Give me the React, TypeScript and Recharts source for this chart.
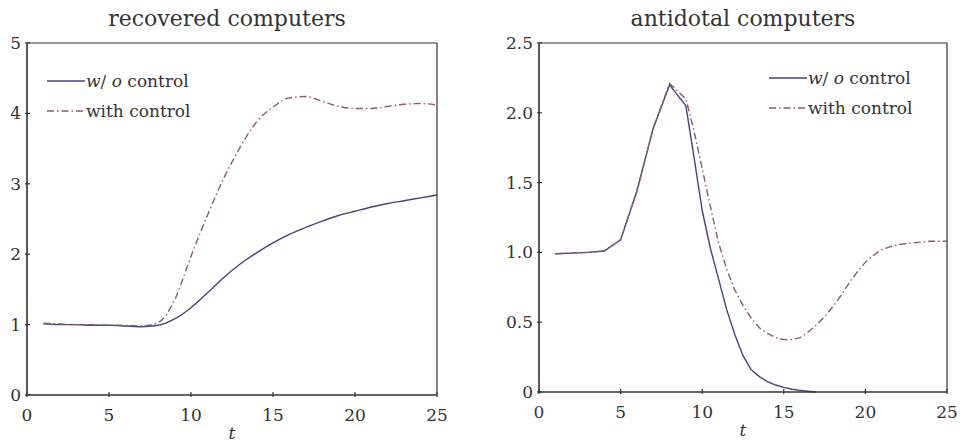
import { LineChart, Line, XAxis, YAxis, ReferenceArea, Legend } from 'recharts';

// recovered computers (integer time steps)
const recoveredT = [1, 2, 3, 4, 5, 6, 7, 8, 9, 10, 11, 12, 13, 14, 15, 16, 17, 18, 19, 20, 21, 22, 23, 24, 25];
const recoveredNoControl = [1.01, 1.0, 1.0, 0.99, 0.99, 0.98, 0.97, 0.99, 1.08, 1.24, 1.45, 1.67, 1.86, 2.02, 2.16, 2.28, 2.38, 2.47, 2.55, 2.61, 2.67, 2.72, 2.76, 2.8, 2.84];
const recoveredControl = [1.02, 1.01, 1.0, 1.0, 0.99, 0.99, 0.98, 1.03, 1.35, 1.97, 2.55, 3.08, 3.52, 3.88, 4.09, 4.22, 4.24, 4.17, 4.1, 4.07, 4.07, 4.1, 4.13, 4.14, 4.12];

// antidotal computers (half steps after the peak, where the curves bend)
const antidotalT = [1, 2, 3, 4, 5, 6, 7, 8, 9, 9.5, 10, 10.5, 11, 11.5, 12, 12.5, 13, 13.5, 14, 14.5, 15, 15.5, 16, 16.5, 17, 17.5, 18, 18.5, 19, 19.5, 20, 20.5, 21, 21.5, 22, 23, 24, 25];
const antidotalNoControl = [0.99, 0.995, 1.0, 1.01, 1.09, 1.44, 1.89, 2.2, 2.05, 1.68, 1.3, 1.03, 0.81, 0.59, 0.41, 0.26, 0.16, 0.11, 0.075, 0.05, 0.033, 0.02, 0.012, 0.005, 0.0, null, null, null, null, null, null, null, null, null, null, null, null, null];
const antidotalControl = [0.99, 0.995, 1.0, 1.01, 1.09, 1.44, 1.89, 2.21, 2.1, 1.87, 1.6, 1.33, 1.07, 0.88, 0.73, 0.62, 0.53, 0.46, 0.42, 0.39, 0.375, 0.375, 0.39, 0.43, 0.48, 0.54, 0.61, 0.69, 0.78, 0.86, 0.93, 0.98, 1.02, 1.04, 1.055, 1.07, 1.08, 1.08];

const xTicks = [0, 5, 10, 15, 20, 25];
const recoveredTicks = [0, 1, 2, 3, 4, 5];
const antidotalTicks = [0, 0.5, 1.0, 1.5, 2.0, 2.5];

const recoveredData = recoveredT.map((t, i) => ({ t, noCtrl: recoveredNoControl[i], ctrl: recoveredControl[i] }));
const antidotalData = antidotalT.map((t, i) => ({ t, noCtrl: antidotalNoControl[i], ctrl: antidotalControl[i] }));

const FONT = 'DejaVu Serif';
const INK = '#333';
const BLUE = '#44447e';
const RED = '#8c5a6a';
const DASHDOT = '7 3 1.5 3';

const XTick = ({ x, y, payload }: any) => (
  <g>
    <line x1={x} x2={x} y1={y} y2={y - 5} stroke={INK} strokeWidth={1.2} />
    <text x={x} y={y + 24} textAnchor="middle" style={{ fontFamily: FONT }} fontSize={17} fill={INK}>
      {payload.value}
    </text>
  </g>
);

const makeYTick = (fmt: (v: number) => string) => ({ x, y, payload }: any) => (
  <g>
    <line x1={x} x2={x + 5} y1={y} y2={y} stroke={INK} strokeWidth={1.2} />
    <text x={x - 4} y={y + 6} textAnchor="end" style={{ fontFamily: FONT }} fontSize={17} fill={INK}>
      {fmt(payload.value)}
    </text>
  </g>
);

const LegendBox = ({ payload }: any) => (
  <div style={{ fontFamily: FONT, fontSize: 17, color: INK, lineHeight: '30px' }}>
    {(payload || []).map((p: any) => (
      <div key={p.value} style={{ display: 'flex', alignItems: 'center', whiteSpace: 'nowrap' }}>
        <svg width={40} height={10}>
          <line x1={1} x2={39} y1={5} y2={5} stroke={p.color} strokeWidth={1.4}
            strokeDasharray={p.dataKey === 'ctrl' ? DASHDOT : undefined} />
        </svg>
        {p.dataKey === 'noCtrl' ? (
          <span><i>w</i>/ <i>o</i> control</span>
        ) : (
          <span>with control</span>
        )}
      </div>
    ))}
  </div>
);

const Title = ({ text, left }: { text: string; left: number }) => (
  <div style={{ position: 'absolute', top: 6, left, width: 410, textAlign: 'center', fontFamily: FONT, fontSize: 22, color: INK }}>
    {text}
  </div>
);

const tLabel = { value: 't', position: 'insideBottom' as const, offset: -14, fontFamily: FONT, fontStyle: 'italic', fontSize: 17, fill: INK };

export default function App() {
  return (
    <div style={{ position: 'absolute', left: 0, top: 0, width: 960, height: 447, background: '#fff' }}>
      <Title text="recovered computers" left={22} />
      <Title text="antidotal computers" left={538} />

      <div style={{ position: 'absolute', left: 0, top: 0 }}>
        <LineChart width={480} height={447} data={recoveredData} margin={{ top: 43, right: 43, bottom: 22, left: 0 }}>
          <XAxis dataKey="t" type="number" domain={[0, 25]} ticks={xTicks} height={30} stroke={INK}
            tickLine={false} tickSize={0} tick={<XTick />} interval={0} label={tLabel} />
          <YAxis type="number" domain={[0, 5]} ticks={recoveredTicks} width={27} stroke={INK}
            tickLine={false} tickSize={0} tick={makeYTick((v) => String(v))} interval={0} />
          <ReferenceArea x1={0} x2={25} y1={0} y2={5} fill="none" stroke={INK} strokeWidth={1.2} ifOverflow="visible" />
          <Line type="monotone" dataKey="noCtrl" name="w/o control" stroke={BLUE} strokeWidth={1.4} dot={false} isAnimationActive={false} />
          <Line type="monotone" dataKey="ctrl" name="with control" stroke={RED} strokeWidth={1.4} strokeDasharray={DASHDOT} dot={false} isAnimationActive={false} />
          <Legend layout="vertical" align="center" verticalAlign="middle" content={<LegendBox />}
            wrapperStyle={{ top: 66, left: 46, width: 'auto' }} />
        </LineChart>
      </div>

      <div style={{ position: 'absolute', left: 480, top: 0 }}>
        <LineChart width={480} height={447} data={antidotalData} margin={{ top: 43, right: 13, bottom: 25, left: 0 }}>
          <XAxis dataKey="t" type="number" domain={[0, 25]} ticks={xTicks} height={30} stroke={INK}
            tickLine={false} tickSize={0} tick={<XTick />} interval={0} label={tLabel} />
          <YAxis type="number" domain={[0, 2.5]} ticks={antidotalTicks} width={59} stroke={INK}
            tickLine={false} tickSize={0} tick={makeYTick((v) => (v === 0 ? '0' : v.toFixed(1)))} interval={0} />
          <ReferenceArea x1={0} x2={25} y1={0} y2={2.5} fill="none" stroke={INK} strokeWidth={1.2} ifOverflow="visible" />
          <Line type="linear" dataKey="noCtrl" name="w/o control" stroke={BLUE} strokeWidth={1.4} dot={false} isAnimationActive={false} />
          <Line type="linear" dataKey="ctrl" name="with control" stroke={RED} strokeWidth={1.4} strokeDasharray={DASHDOT} dot={false} isAnimationActive={false} />
          <Legend layout="vertical" align="center" verticalAlign="middle" content={<LegendBox />}
            wrapperStyle={{ top: 63, left: 288, width: 'auto' }} />
        </LineChart>
      </div>
    </div>
  );
}
